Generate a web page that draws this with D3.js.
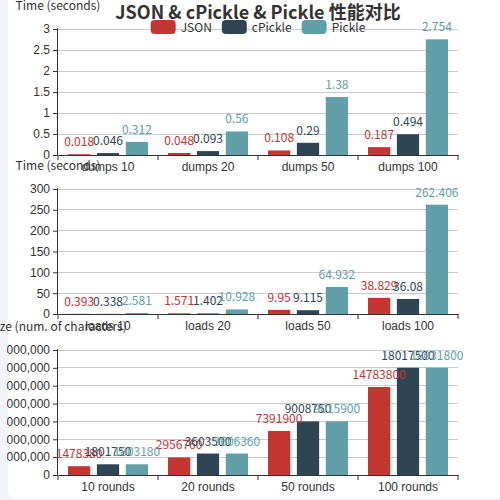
<!DOCTYPE html>
<html><head><meta charset="utf-8">
<script src="https://cdn.jsdelivr.net/npm/d3@7/dist/d3.min.js"></script>
<style>
html,body{margin:0;padding:0;background:#f3f4f9;}
svg{display:block;font-family:"Noto Sans CJK SC","Noto Sans",sans-serif;}
</style></head>
<body>
<svg id="c" width="500" height="500"></svg>
<script>
const seriesNames = ["JSON", "cPickle", "Pickle"];
const colors = ["#c23531", "#2f4554", "#61a0a8"];
const titleText = "JSON & cPickle & Pickle 性能对比";

const dumpsCats = ["dumps 10", "dumps 20", "dumps 50", "dumps 100"];
const dumpsJSON = [0.018, 0.048, 0.108, 0.187];
const dumpsCPickle = [0.046, 0.093, 0.29, 0.494];
const dumpsPickle = [0.312, 0.56, 1.38, 2.754];
const dumpsTicks = [0, 0.5, 1, 1.5, 2, 2.5, 3];

const loadsCats = ["loads 10", "loads 20", "loads 50", "loads 100"];
const loadsJSON = [0.393, 1.571, 9.95, 38.829];
const loadsCPickle = [0.338, 1.402, 9.115, 36.08];
const loadsPickle = [2.581, 10.928, 64.932, 262.406];
const loadsTicks = [0, 50, 100, 150, 200, 250, 300];

const sizeCats = ["10 rounds", "20 rounds", "50 rounds", "100 rounds"];
const sizeJSON = [1478380, 2956760, 7391900, 14783800];
const sizeCPickle = [1801750, 3603500, 9008750, 18017500];
const sizePickle = [1803180, 3606360, 9015900, 18031800];
const sizeTicks = [0, 3000000, 6000000, 9000000, 12000000, 15000000, 18000000, 21000000];

const yNames = ["Time (seconds)", "Time (seconds)", "Size (num. of characters)"];

const svg = d3.select("#c");
svg.append("rect").attr("x", 8).attr("y", -8).attr("width", 520).attr("height", 506).attr("rx", 7).attr("fill", "#fff");
const defs = svg.append("defs");
defs.append("clipPath").attr("id", "lblclip").append("rect").attr("x", 7).attr("y", 0).attr("width", 500).attr("height", 500);

const left = 58, right = 458;
const panels = [
  {cats: dumpsCats, vals: [dumpsJSON, dumpsCPickle, dumpsPickle], ticks: dumpsTicks, top: 29, bottom: 155, fmt: d3.format("")},
  {cats: loadsCats, vals: [loadsJSON, loadsCPickle, loadsPickle], ticks: loadsTicks, top: 189, bottom: 314, fmt: d3.format("")},
  {cats: sizeCats, vals: [sizeJSON, sizeCPickle, sizePickle], ticks: sizeTicks, top: 350, bottom: 475, fmt: d3.format(",")}
];

panels.forEach((p, pi) => {
  const g = svg.append("g");
  const x0 = d3.scaleBand().domain(p.cats).range([left, right]).padding(0);
  const x1 = d3.scaleBand().domain(seriesNames).range([x0.bandwidth()*0.1, x0.bandwidth()*0.9]).paddingInner(0.23).paddingOuter(0);
  const y = d3.scaleLinear().domain([p.ticks[0], p.ticks[p.ticks.length-1]]).range([p.bottom, p.top]);

  // grid
  g.append("g").selectAll("line").data(p.ticks.slice(1)).join("line")
    .attr("x1", left).attr("x2", right).attr("y1", d => y(d)).attr("y2", d => y(d))
    .attr("stroke", "#ccc").attr("stroke-width", 1).attr("shape-rendering", "crispEdges");

  // y axis
  const yAxis = d3.axisLeft(y).tickValues(p.ticks).tickSize(5).tickPadding(3).tickFormat(p.fmt);
  const yWrap = g.append("g").attr("clip-path", "url(#lblclip)");
  const ya = yWrap.append("g").attr("transform", `translate(${left},0)`).call(yAxis);
  ya.select(".domain").attr("stroke", "#333").attr("d", `M-0.5,${p.bottom}V${p.top-1}`);
  ya.selectAll(".tick line").attr("stroke", "#333");
  ya.selectAll(".tick text").attr("fill", "#333").attr("font-size", 12).attr("font-family", null);

  // x axis
  const xAxis = d3.axisBottom(x0).tickSize(0).tickPadding(0);
  const xa = g.append("g").attr("transform", `translate(0,${p.bottom})`).call(xAxis);
  xa.select(".domain").attr("stroke", "#333");
  xa.selectAll(".tick text").attr("fill", "#333").attr("font-size", 12).attr("font-family", null).attr("dy", null).attr("y", 15.5);
  const bounds = p.cats.map(c => x0(c)).concat([right]);
  xa.selectAll("line.bt").data(bounds).join("line").attr("class", "bt")
    .attr("x1", d => d).attr("x2", d => d).attr("y1", 0).attr("y2", 5).attr("stroke", "#333");

  // bars
  seriesNames.forEach((s, si) => {
    const data = p.vals[si];
    const bg = g.append("g");
    bg.selectAll("rect").data(data).join("rect")
      .attr("x", (d, i) => x0(p.cats[i]) + x1(s))
      .attr("width", x1.bandwidth())
      .attr("y", d => y(d))
      .attr("height", d => p.bottom - y(d))
      .attr("fill", colors[si]);
  });
  seriesNames.forEach((s, si) => {
    const data = p.vals[si];
    g.append("g").selectAll("text").data(data).join("text")
      .attr("x", (d, i) => x0(p.cats[i]) + x1(s) + x1.bandwidth()/2)
      .attr("y", d => y(d) - 8)
      .attr("text-anchor", "middle").attr("font-size", 12).attr("fill", colors[si])
      .text(d => d);
  });

  // axis name
  svg.append("text").attr("x", left).attr("y", p.top - 19).attr("text-anchor", "middle")
    .attr("font-size", 12).attr("fill", "#333").text(yNames[pi]);
});

// title
svg.append("text").attr("x", 258).attr("y", 19).attr("text-anchor", "middle")
  .attr("font-size", 18).attr("font-weight", "bold").attr("fill", "#333").text(titleText);

// legend
const lg = svg.append("g");
let cx = 0;
seriesNames.forEach((s, i) => {
  const it = lg.append("g");
  it.append("rect").attr("x", 0).attr("y", 20).attr("width", 25).attr("height", 14).attr("rx", 4).attr("fill", colors[i]);
  const t = it.append("text").attr("x", 30).attr("y", 31.5).attr("font-size", 12).attr("fill", "#333").text(s);
  const w = 30 + t.node().getComputedTextLength();
  it.attr("transform", `translate(${cx},0)`);
  cx += w + 10;
});
const totalW = cx - 10;
lg.attr("transform", `translate(${258 - totalW/2},0)`);
</script>
</body></html>
